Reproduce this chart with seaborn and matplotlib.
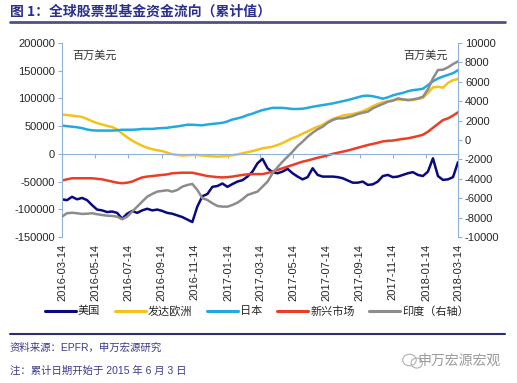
import numpy as np
import pandas as pd
import seaborn as sns
import matplotlib.pyplot as plt
from matplotlib.lines import Line2D
from matplotlib.patches import Ellipse

# cumulative flows, USD mn (thousands here, scaled below); India on right axis
dates = pd.date_range("2016-03-14", "2018-03-14", periods=80)

us = [-82, -83.5, -77.5, -82, -79.5, -83.5, -92.5, -100.5, -102, -105,
      -104, -106.5, -117, -108, -103, -106.5, -102, -99, -102, -100.5,
      -103, -106.5, -108, -111, -114, -118.5, -123, -95, -76.5, -72.5,
      -59.5, -58, -53.5, -59.5, -54.5, -50, -47.5, -41, -32, -17,
      -9, -26, -33, -35, -32, -27, -35, -41, -46, -42,
      -26, -38, -41, -41, -41, -42, -44, -48, -52, -52,
      -50, -56, -55, -50, -40, -38, -42, -41, -38, -35,
      -33, -38, -40, -32, -8, -40, -47, -46, -42, -15]

europe = [71, 70, 69, 68, 66.5, 63, 59, 55.5, 53, 50.5,
          48.5, 44, 36.5, 30, 24, 19, 14.5, 11, 8.5, 6.5,
          5, 2, -0.5, -2, -3, -2.5, -2, -2, -3, -4,
          -4.5, -5, -4.5, -3.5, -2.5, -1, 1, 3, 5, 7.5,
          10, 11.5, 13, 16, 19.5, 24, 28.5, 32, 36.5, 40.5,
          45, 49, 52.5, 58, 63, 66, 69, 70.5, 72, 74,
          77, 81, 86, 90, 93, 95, 97, 98, 98, 97,
          97, 99, 101, 110, 120, 121, 119.5, 128, 133, 135]

japan = [51, 50, 49, 48, 46.5, 44, 42.5, 42, 42, 42,
         42, 42.5, 43.5, 43.5, 43.5, 44, 45, 45, 45, 46,
         46.5, 47, 48.5, 49.5, 51, 52.5, 52.5, 52, 51.5, 53,
         54, 55, 56, 58.5, 62, 64, 66.5, 70, 72.5, 76,
         79, 81, 83, 83, 83, 82, 81, 81, 81.5, 83,
         85, 86.5, 88, 89.5, 91, 93, 95, 97, 99.5, 102,
         104.5, 105, 104, 102, 99.5, 102, 105.5, 108, 110, 113,
         115, 116, 117.5, 124, 131, 136, 139.5, 142.5, 145.5, 151]

em = [-48, -46, -44, -44, -44, -44, -44, -45, -46, -48,
      -50, -52, -53, -52, -50, -46, -42.5, -41, -40, -39,
      -38, -37, -35, -34.5, -34, -34, -34, -36, -38, -40,
      -41, -42, -42.5, -42, -41, -39.5, -38, -37, -36.5, -36.5,
      -36.5, -34.5, -32, -29, -26, -23, -20, -17, -14, -12,
      -9.5, -7, -5, -2.5, 0, 2, 4, 6, 8.5, 11,
      13.5, 16, 18, 20, 22.5, 23.5, 24, 25.5, 27, 28,
      30, 32, 34.5, 40, 47, 54, 61, 64, 69, 75]

india = [-7.9, -7.55, -7.5, -7.55, -7.62, -7.6, -7.55, -7.65, -7.73, -7.8,
         -7.83, -7.9, -8.17, -7.9, -7.38, -6.87, -6.35, -5.84, -5.56, -5.32,
         -5.25, -5.18, -5.32, -5.15, -4.81, -4.64, -4.53, -5.15, -6.0, -6.18,
         -6.52, -6.8, -6.87, -6.87, -6.7, -6.46, -6.11, -5.67, -5.49, -5.32,
         -4.81, -4.29, -3.43, -2.81, -2.23, -1.72, -1.2, -0.62, -0.17, 0.34,
         0.75, 1.1, 1.37, 1.78, 2.06, 2.23, 2.23, 2.34, 2.47, 2.68,
         2.81, 2.92, 3.26, 3.5, 3.71, 3.95, 4.05, 4.29, 4.19, 4.12,
         4.19, 4.29, 4.46, 5.22, 6.36, 7.21, 7.25, 7.49, 7.83, 8.1]

names = ["美国", "发达欧洲", "日本", "新兴市场", "印度（右轴）"]
colors = ["#0a0a80", "#f5c21b", "#22a9e0", "#ec3d25", "#8c8c8c"]

tick_dates = pd.date_range("2016-03-14", "2018-03-14", freq=pd.DateOffset(months=2))

df = pd.DataFrame({"date": dates,
                   "us": np.array(us) * 1000,
                   "europe": np.array(europe) * 1000,
                   "japan": np.array(japan) * 1000,
                   "em": np.array(em) * 1000,
                   "india": np.array(india) * 1000})

sns.set_style("white")
plt.rcParams["font.family"] = ["Liberation Sans", "Noto Sans CJK SC", "DejaVu Sans"]

spine_c = "#8fb3d8"
txt_c = "#262626"
navy = "#2b2f8e"

fig = plt.figure(figsize=(5.17, 3.83), dpi=100)
ax = fig.add_axes([0.1199, 0.3812, 0.766, 0.5065])

lw = 1.8
for col, c in zip(["us", "europe", "japan", "em"], colors[:4]):
    sns.lineplot(data=df, x="date", y=col, ax=ax, color=c, lw=lw)

ax2 = ax.twinx()
sns.lineplot(data=df, x="date", y="india", ax=ax2, color=colors[4], lw=lw)

ax.set_xlim(dates[0], dates[-1])
ax.set_ylim(-150000, 200000)
ax2.set_ylim(-10000, 10000)
ax.set_yticks(np.arange(-150000, 200001, 50000))
ax2.set_yticks(np.arange(-10000, 10001, 2000))
ax.set_yticklabels([f"{v:d}" for v in np.arange(-150000, 200001, 50000)])
ax2.set_yticklabels([f"{v:d}" for v in np.arange(-10000, 10001, 2000)])

for a in (ax, ax2):
    a.set_xlabel("")
    a.set_ylabel("")
    a.spines["top"].set_visible(False)

ax.spines["right"].set_visible(False)
ax.spines["left"].set_color(spine_c)
ax.spines["bottom"].set_color(spine_c)
ax.spines["bottom"].set_position(("data", 0))
ax2.spines["left"].set_visible(False)
ax2.spines["bottom"].set_visible(False)
ax2.spines["right"].set_color(spine_c)

ax.set_xticks(tick_dates)
ax.tick_params(axis="x", bottom=True, direction="out", length=3, color=spine_c,
               labelbottom=False)
ax.tick_params(axis="y", left=True, direction="out", length=3, color=spine_c,
               labelsize=8, labelcolor=txt_c, pad=2)
ax2.tick_params(axis="y", right=True, direction="out", length=3, color=spine_c,
                labelsize=8, labelcolor=txt_c, pad=2)

# date labels sit under the plot, not at the zero line
sec = ax.secondary_xaxis("bottom")
sec.set_xticks(tick_dates)
sec.set_xticklabels([d.strftime("%Y-%m-%d") for d in tick_dates], rotation=90)
sec.tick_params(length=0, labelsize=8, labelcolor=txt_c, pad=5)
sec.spines["bottom"].set_visible(False)

ax.text(0.025, 0.965, "百万美元", transform=ax.transAxes, fontsize=8,
        color="#333333", va="top", ha="left", family=["Noto Sans CJK SC"])
ax.text(0.975, 0.965, "百万美元", transform=ax.transAxes, fontsize=8,
        color="#333333", va="top", ha="right", family=["Noto Sans CJK SC"])

handles = [Line2D([], [], color=c, lw=2.2) for c in colors]
fig.legend(handles, names, loc="center", bbox_to_anchor=(0.497, 0.188), ncol=5,
           frameon=False, fontsize=8, handlelength=2.8, handletextpad=0.2,
           columnspacing=1.3)

fig.text(0.019, 0.969, "图 1：全球股票型基金资金流向（累计值）", fontsize=10,
         fontweight="bold", color=navy, va="center", ha="left",
         family=["Noto Sans CJK SC"])
fig.add_artist(Line2D([0.019, 0.977], [0.943, 0.943], color="#4f4f86", lw=2))
fig.add_artist(Line2D([0.019, 0.977], [0.128, 0.128], color="#2b2f70", lw=1.5))

fig.text(0.019, 0.091, "资料来源：EPFR，申万宏源研究", fontsize=7.5, color="#3c3c8c",
         va="center", ha="left")
fig.text(0.019, 0.031, "注：累计日期开始于 2015 年 6 月 3 日", fontsize=7.5,
         color="#3c3c8c", va="center", ha="left")
fig.text(0.968, 0.057, "申万宏源宏观", fontsize=10, color="#9a9a9a",
         va="center", ha="right", family=["Noto Sans CJK SC"])

# small chat-bubble logo next to the watermark
fig.add_artist(Ellipse((0.792, 0.060), 0.026, 0.030, fill=False, ec="#b0b0b0", lw=0.8))
fig.add_artist(Ellipse((0.806, 0.052), 0.022, 0.026, fill=False, ec="#b0b0b0", lw=0.8))

fig.savefig("out.png", dpi=100)
